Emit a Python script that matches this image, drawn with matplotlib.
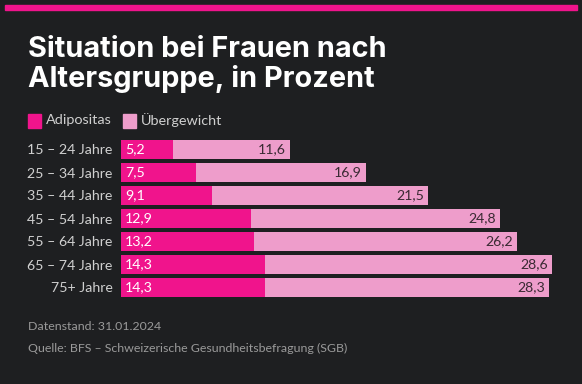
import matplotlib.pyplot as plt
from matplotlib.patches import Rectangle

# Data
groups = ["15 – 24 Jahre", "25 – 34 Jahre", "35 – 44 Jahre", "45 – 54 Jahre",
          "55 – 64 Jahre", "65 – 74 Jahre", "75+ Jahre"]
adipositas = [5.2, 7.5, 9.1, 12.9, 13.2, 14.3, 14.3]
uebergewicht = [11.6, 16.9, 21.5, 24.8, 26.2, 28.6, 28.3]

bg = "#1e1f21"
c_adi = "#f0148c"
c_ueb = "#ee9dcb"
font = "Lato"

W, H = 582, 384
fig = plt.figure(figsize=(W / 100, H / 100), dpi=100, facecolor=bg)

# pink top line
fig.patches.append(Rectangle((5 / W, 1 - 10 / H), 572 / W, 5 / H,
                             transform=fig.transFigure, color=c_adi, zorder=5))

# title, two lines
for base, line in [(57, "Situation bei Frauen nach"), (87, "Altersgruppe, in Prozent")]:
    fig.text(28 / W, 1 - base / H, line, color="white", fontsize=20.8,
             fontweight="bold", family="Inter", ha="left", va="baseline")

# legend
for x0, label, col in [(28, "Adipositas", c_adi), (123, "Übergewicht", c_ueb)]:
    fig.patches.append(Rectangle((x0 / W, 1 - 128 / H), 13 / W, 14 / H,
                                 transform=fig.transFigure, color=col))
    fig.text((x0 + 18) / W, 1 - 120 / H, label, color="#d0d0d0", fontsize=10.4,
             family=font, ha="left", va="center")

ax = fig.add_axes([121 / W, 1 - 299 / H, 452 / W, 161 / H])
ax.set_facecolor(bg)
y = list(range(len(groups)))
ax.barh(y, adipositas, height=0.83, color=c_adi)
ax.barh(y, uebergewicht, left=adipositas, height=0.83, color=c_ueb)
ax.set_xlim(0, 45)
ax.set_ylim(len(groups) - 0.5, -0.5)

for i, (a, u) in enumerate(zip(adipositas, uebergewicht)):
    ax.text(0.4, i, f"{a:.1f}".replace(".", ","), color="white", fontsize=10.2,
            family=font, ha="left", va="center")
    ax.text(a + u - 0.4, i, f"{u:.1f}".replace(".", ","), color="#3a2a33",
            fontsize=10.2, family=font, ha="right", va="center")

ax.set_yticks(y)
ax.set_yticklabels(groups, color="#d0d0d0", fontsize=10.2, family=font)
ax.tick_params(axis="y", length=0, pad=6)
ax.set_xticks([])
for s in ax.spines.values():
    s.set_visible(False)

# footer
fig.text(28 / W, 1 - 327 / H, "Datenstand: 31.01.2024", color="#9a9a9a",
         fontsize=8.9, family=font, ha="left", va="center")
fig.text(28 / W, 1 - 348 / H, "Quelle: BFS – Schweizerische Gesundheitsbefragung (SGB)",
         color="#9a9a9a", fontsize=8.9, family=font, ha="left", va="center")

fig.savefig("out.png", dpi=100, facecolor=bg)
